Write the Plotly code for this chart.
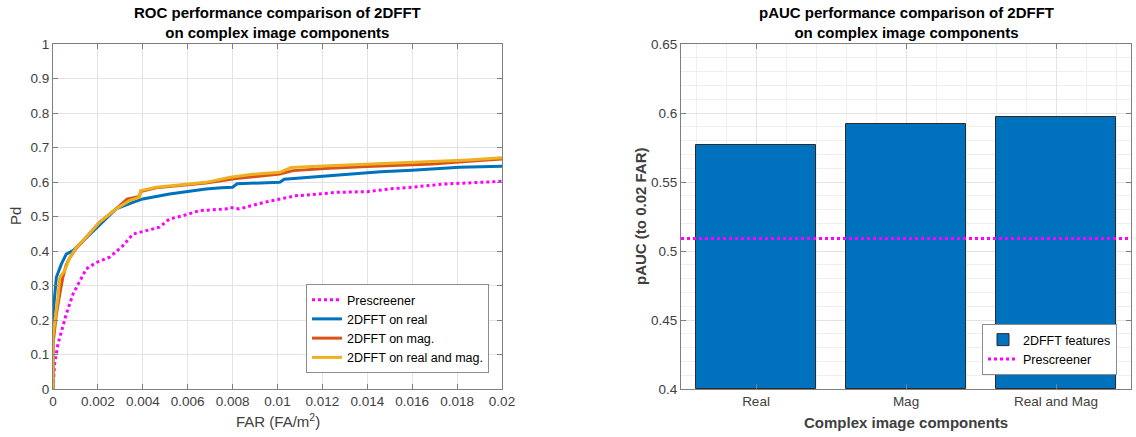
import plotly.graph_objects as go

# ---------------- data ----------------
far_pre = [0, 0.00002, 0.00007, 0.00022, 0.00044, 0.00059, 0.00089, 0.00119, 0.00148, 0.00193,
           0.00252, 0.00311, 0.00356, 0.00415, 0.00474, 0.00519, 0.00578, 0.00652, 0.00711,
           0.0077, 0.0079, 0.0083, 0.0094, 0.0101, 0.0108, 0.0120, 0.0126, 0.0140, 0.0150,
           0.0160, 0.0168, 0.0174, 0.0187, 0.0200]
pd_pre = [0, 0.03, 0.072, 0.130, 0.179, 0.217, 0.275, 0.314, 0.348, 0.367,
          0.382, 0.415, 0.449, 0.459, 0.469, 0.493, 0.502, 0.517, 0.519,
          0.522, 0.526, 0.522, 0.541, 0.551, 0.560, 0.566, 0.570, 0.572, 0.580,
          0.585, 0.590, 0.594, 0.598, 0.602]

far_real = [0, 0, 0.00007, 0.00015, 0.00037, 0.00059, 0.00089, 0.00119, 0.00148, 0.00207,
            0.00281, 0.00356, 0.0040, 0.00519, 0.00607, 0.00681, 0.0075, 0.0080, 0.0082,
            0.0088, 0.0101, 0.0103, 0.0119, 0.0131, 0.0146, 0.0160, 0.0169, 0.0181, 0.0200]
pd_real = [0, 0.21, 0.266, 0.324, 0.362, 0.391, 0.401, 0.420, 0.440, 0.478,
           0.522, 0.541, 0.551, 0.565, 0.573, 0.580, 0.583, 0.585, 0.595,
           0.596, 0.599, 0.608, 0.616, 0.623, 0.630, 0.634, 0.638, 0.643, 0.646]

far_mag = [0, 0, 0.00007, 0.00015, 0.00030, 0.00044, 0.00059, 0.00074, 0.00104, 0.00148,
           0.00207, 0.00281, 0.00330, 0.00385, 0.0039, 0.00459, 0.00607, 0.00681, 0.00815,
           0.0101, 0.0107, 0.0123, 0.0140, 0.0169, 0.0190, 0.0200]
pd_mag = [0, 0.13, 0.17, 0.217, 0.275, 0.324, 0.360, 0.380, 0.408, 0.440,
          0.483, 0.522, 0.550, 0.558, 0.572, 0.583, 0.592, 0.597, 0.610,
          0.623, 0.633, 0.640, 0.645, 0.652, 0.662, 0.667]

far_both = [0, 0, 0.00007, 0.00022, 0.00030, 0.00052, 0.00074, 0.00104, 0.00148, 0.00207,
            0.00281, 0.00341, 0.00385, 0.0039, 0.00459, 0.00607, 0.00681, 0.0079, 0.0088,
            0.0101, 0.0106, 0.0123, 0.0138, 0.0153, 0.0168, 0.0185, 0.0200]
pd_both = [0, 0.15, 0.19, 0.266, 0.324, 0.343, 0.380, 0.410, 0.440, 0.483,
           0.522, 0.546, 0.556, 0.575, 0.585, 0.594, 0.599, 0.614, 0.622,
           0.628, 0.642, 0.647, 0.651, 0.655, 0.660, 0.664, 0.670]

categories = ["Real", "Mag", "Real and Mag"]
pauc_values = [0.577, 0.592, 0.597]
pauc_prescreener = 0.509

far_range = [0, 0.02]
pd_range = [0, 1]
pauc_range = [0.4, 0.65]
cat_pos = [1, 2, 3]
cat_range = [0.5, 3.5]

# ---------------- styling ----------------
BLUE = "#0072BD"
ORANGE = "#D95319"
YELLOW = "#EDB120"
MAGENTA = "#FF00FF"
FONT = "Liberation Sans, Arial, sans-serif"
AXC = "#7f7f7f"
TXT = "#404040"

fig = go.Figure()

fig.add_trace(go.Scatter(x=far_pre, y=pd_pre, mode="lines", name="Prescreener",
                         line=dict(color=MAGENTA, width=3, dash="dot"), xaxis="x", yaxis="y"))
fig.add_trace(go.Scatter(x=far_real, y=pd_real, mode="lines", name="2DFFT on real",
                         line=dict(color=BLUE, width=3), xaxis="x", yaxis="y"))
fig.add_trace(go.Scatter(x=far_mag, y=pd_mag, mode="lines", name="2DFFT on mag.",
                         line=dict(color=ORANGE, width=3), xaxis="x", yaxis="y"))
fig.add_trace(go.Scatter(x=far_both, y=pd_both, mode="lines", name="2DFFT on real and mag.",
                         line=dict(color=YELLOW, width=3), xaxis="x", yaxis="y"))

fig.add_trace(go.Bar(x=cat_pos, y=[v - pauc_range[0] for v in pauc_values], base=pauc_range[0],
                     width=0.8, name="2DFFT features",
                     marker=dict(color=BLUE, line=dict(color="#2b2b2b", width=1)),
                     xaxis="x2", yaxis="y2", legend="legend2"))
fig.add_trace(go.Scatter(x=cat_range, y=[pauc_prescreener] * 2, mode="lines", name="Prescreener",
                         line=dict(color=MAGENTA, width=3, dash="dot"), cliponaxis=False,
                         xaxis="x2", yaxis="y2", legend="legend2"))

W, H = 1136, 437
def px(x):
    return x / W
def py(y):
    return 1 - y / H

axis_common = dict(showline=True, linecolor=AXC, linewidth=1, mirror="ticks", ticks="inside",
                   ticklen=5, tickcolor=AXC, zeroline=False, showgrid=True, gridcolor="#e3e3e3",
                   gridwidth=1, automargin=False,
                   tickfont=dict(family=FONT, size=13.5, color=TXT))

fig.update_layout(
    width=W, height=H,
    margin=dict(l=0, r=0, t=0, b=0, autoexpand=False),
    paper_bgcolor="white", plot_bgcolor="white",
    font=dict(family=FONT),
    bargap=0,
    xaxis=dict(axis_common, domain=[px(53), px(502)], range=far_range, dtick=0.002, tick0=0,
               anchor="y"),
    yaxis=dict(axis_common, domain=[py(389), py(44)], range=pd_range, dtick=0.1, tick0=0,
               anchor="x"),
    xaxis2=dict(axis_common, domain=[px(681), px(1131)], range=cat_range, tickmode="array",
                tickvals=cat_pos, ticktext=categories, anchor="y2",
                minor=dict(tickmode="linear", tick0=0, dtick=0.2, showgrid=True,
                           gridcolor="#efefef", ticks="")),
    yaxis2=dict(axis_common, domain=[py(389), py(44)], range=pauc_range, dtick=0.05, tick0=0.4,
                anchor="x2",
                minor=dict(tickmode="linear", tick0=0.4, dtick=0.01, showgrid=True,
                           gridcolor="#efefef", ticks="")),
    legend=dict(x=px(489), y=py(373), xanchor="right", yanchor="bottom",
                bgcolor="white", bordercolor="#8c8c8c", borderwidth=1,
                font=dict(family=FONT, size=12.5, color="#000000"), tracegroupgap=0),
    legend2=dict(x=px(1117), y=py(375), xanchor="right", yanchor="bottom",
                 bgcolor="white", bordercolor="#8c8c8c", borderwidth=1,
                 font=dict(family=FONT, size=12.5, color="#000000"), tracegroupgap=0),
    showlegend=True,
)

annots = [
    dict(text="<b>ROC performance comparison of 2DFFT<br>on complex image components</b>",
         x=px(277.5), y=py(23), font=dict(size=15, color="#000000")),
    dict(text="<b>pAUC performance comparison of 2DFFT<br>on complex image components</b>",
         x=px(906), y=py(23), font=dict(size=15, color="#000000")),
    dict(text="FAR (FA/m<sup>2</sup>)", x=px(277.5), y=py(420),
         font=dict(size=15, color=TXT)),
    dict(text="Pd", x=px(16), y=py(216), textangle=-90, font=dict(size=15, color=TXT)),
    dict(text="<b>pAUC (to 0.02 FAR)</b>", x=px(641), y=py(216), textangle=-90,
         font=dict(size=15, color=TXT)),
    dict(text="<b>Complex image components</b>", x=px(906), y=py(422),
         font=dict(size=15, color=TXT)),
]
for a in annots:
    a.update(xref="paper", yref="paper", showarrow=False, xanchor="center", yanchor="middle")
    a["font"]["family"] = FONT
fig.update_layout(annotations=annots)

fig.write_html("out.html")
